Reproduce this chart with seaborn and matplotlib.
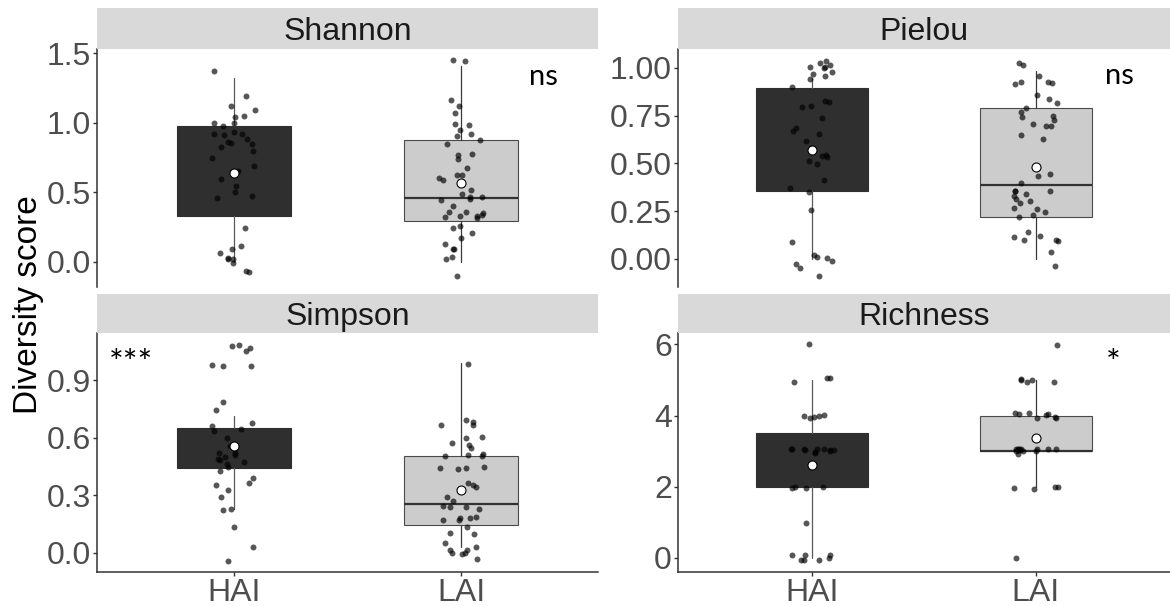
import numpy as np
import pandas as pd
import seaborn as sns
import matplotlib.pyplot as plt

sns.set_style('white')
plt.rcParams['font.family'] = ['Liberation Sans', 'DejaVu Sans']
np.random.seed(7)  # stripplot jitter

groups = ['HAI', 'LAI']

shannon_hai = [1.376, 1.197, 1.122, 1.050, 1.096, 1.046, 1.002, 0.998, 0.978, 0.935, 0.923, 0.885, 0.866,
               0.918, 0.914, 0.849, 0.830, 0.856, 0.801, 0.746, 0.655, 0.693, 0.597, 0.547, 0.475, 0.460,
               0.506, 0.242, 0.115, 0.091, 0.062, -0.005, 0.026, 0.019, 0.022, -0.074, -0.062]
shannon_lai = [1.453, 1.448, 1.165, 1.122, 1.070, 0.986, 0.993, 0.950, 0.918, 0.909, 0.875, 0.851, 0.777,
               0.767, 0.743, 0.676, 0.628, 0.624, 0.602, 0.588, 0.520, 0.489, 0.470, 0.470, 0.451, 0.444,
               0.403, 0.362, 0.357, 0.355, 0.341, 0.333, 0.333, 0.317, 0.326, 0.247, 0.261, 0.211, 0.170,
               0.129, 0.091, 0.096, 0.034, 0.022, -0.098]
pielou_hai = [1.007, 1.000, 0.960, 0.969, 0.941, 1.003, 1.016, 1.024, 1.038, 0.981, 0.902, 0.820, 0.794,
              0.798, 0.825, 0.736, 0.688, 0.653, 0.670, 0.618, 0.543, 0.513, 0.499, 0.538, 0.532, 0.414,
              0.370, 0.349, 0.257, 0.089, 0.021, 0.009, 0.003, -0.009, -0.028, -0.049, -0.087]
pielou_lai = [1.024, 1.014, 0.960, 0.928, 0.928, 0.920, 0.916, 0.859, 0.836, 0.815, 0.789, 0.768, 0.750,
              0.729, 0.745, 0.705, 0.696, 0.696, 0.651, 0.630, 0.443, 0.436, 0.400, 0.353, 0.339, 0.353,
              0.356, 0.332, 0.304, 0.312, 0.291, 0.269, 0.260, 0.244, 0.230, 0.218, 0.143, 0.119, 0.099,
              0.092, 0.099, 0.117, 0.038, -0.037]
simpson_hai = [1.078, 1.049, 1.066, 1.085, 0.971, 0.976, 0.972, 0.785, 0.742, 0.678, 0.660, 0.643, 0.636,
               0.601, 0.558, 0.518, 0.511, 0.522, 0.499, 0.475, 0.490, 0.485, 0.463, 0.445, 0.428, 0.388,
               0.362, 0.352, 0.326, 0.293, 0.227, 0.222, 0.135, 0.029, -0.040]
simpson_lai = [0.983, 0.692, 0.681, 0.666, 0.666, 0.605, 0.601, 0.570, 0.562, 0.549, 0.510, 0.504, 0.515,
               0.506, 0.435, 0.440, 0.440, 0.449, 0.345, 0.362, 0.354, 0.289, 0.269, 0.241, 0.241, 0.244,
               0.229, 0.184, 0.172, 0.172, 0.180, 0.185, 0.133, 0.102, 0.097, 0.050, 0.033, 0.002, 0.002,
               -0.007, 0.016, 0.017, -0.029]
richness_hai = [6.00, 5.05, 5.06, 4.95, 3.99, 3.99, 4.01, 3.95, 3.92, 3.03, 3.05, 2.98, 3.07, 3.06, 3.05,
                2.96, 3.01, 3.05, 3.03, 3.03, 2.00, 1.95, 2.00, 1.97, 0.97, -0.02, -0.07, 0.07, -0.07,
                0.07, 0.07, -0.07]
richness_lai = [5.98, 5.00, 5.01, 4.93, 4.93, 5.04, 4.04, 4.04, 3.92, 3.92, 4.08, 3.95, 4.08, 4.01, 3.05,
                3.07, 2.93, 3.03, 3.07, 3.05, 3.01, 3.07, 3.03, 3.01, 3.05, 3.01, 3.05, 2.00, 1.92, 1.95,
                2.00, -0.02]

# box stats per group: q1, median, q3, lower whisker, upper whisker
shannon_box = [[0.333, 0.80, 0.980, 0.0, 1.326], [0.297, 0.458, 0.875, 0.0, 1.412]]
pielou_box = [[0.356, 0.63, 0.897, 0.0, 0.949], [0.218, 0.387, 0.789, 0.0, 0.986]]
simpson_box = [[0.444, 0.55, 0.652, 0.229, 0.714], [0.144, 0.253, 0.506, 0.031, 0.991]]
richness_box = [[2.0, 3.0, 3.5, 0.0, 5.0], [3.0, 3.0, 4.0, 2.0, 5.0]]

shannon_mean = [0.640, 0.566]
pielou_mean = [0.569, 0.480]
simpson_mean = [0.558, 0.329]
richness_mean = [2.62, 3.37]

shannon_ticks = [0.0, 0.5, 1.0, 1.5]
pielou_ticks = [0.0, 0.25, 0.5, 0.75, 1.0]
simpson_ticks = [0.0, 0.3, 0.6, 0.9]
richness_ticks = [0, 2, 4, 6]

W, H = 1170, 606
fig = plt.figure(figsize=(W / 100, H / 100), dpi=100)

fills = ['#2f2f2f', '#cccccc']
edges = ['#2f2f2f', '#4a4a4a']
whisk = ['#5a5a5a', '#3a3a3a']
medc = ['#2f2f2f', '#333333']

panels = [
    ('Shannon', shannon_hai, shannon_lai, shannon_box, shannon_mean, shannon_ticks, '{:.1f}', (-0.18, 1.532),
     'ns', 21, (0.892, 0.849), (97, 501, 8, 49, 287), False),
    ('Pielou', pielou_hai, pielou_lai, pielou_box, pielou_mean, pielou_ticks, '{:.2f}', (-0.147, 1.099),
     'ns', 21, (0.898, 0.853), (678, 492, 8, 49, 287), False),
    ('Simpson', simpson_hai, simpson_lai, simpson_box, simpson_mean, simpson_ticks, '{:.1f}', (-0.099, 1.145),
     '***', 25, (0.068, 0.83), (97, 501, 294, 333, 572), True),
    ('Richness', richness_hai, richness_lai, richness_box, richness_mean, richness_ticks, '{:d}', (-0.40, 6.32),
     '*', 25, (0.884, 0.83), (678, 492, 294, 333, 572), True),
]

for name, hai, lai, box, mean, ticks, fmt, ylim, sig, sig_fs, sig_xy, (l, w, st, at, ab), bottom in panels:
    ax = fig.add_axes([l / W, 1 - ab / H, w / W, (ab - at) / H])
    sax = fig.add_axes([l / W, 1 - at / H, w / W, (at - st) / H])
    sax.set_facecolor('#d9d9d9')
    for s in sax.spines.values():
        s.set_visible(False)
    sax.set_xticks([])
    sax.set_yticks([])
    sax.text(0.5, 0.42, name, ha='center', va='center', fontsize=23, color='#1a1a1a')

    for i, g in enumerate(groups):
        q1, med, q3, lo, hi = box[i]
        stats = [dict(q1=q1, med=med, q3=q3, whislo=lo, whishi=hi, label=g)]
        ax.bxp(stats, positions=[i], widths=0.5, showfliers=False, showcaps=False, patch_artist=True,
               boxprops=dict(facecolor=fills[i], edgecolor=edges[i], linewidth=0.8),
               whiskerprops=dict(color=whisk[i], linewidth=0.9),
               medianprops=dict(color=medc[i], linewidth=1.6),
               zorder=1, manage_ticks=False)

    df = pd.DataFrame({'pos': [0] * len(hai) + [1] * len(lai), 'value': hai + lai})
    sns.stripplot(data=df, x='pos', y='value', native_scale=True, orient='x', jitter=0.1,
                  color='black', alpha=0.66, size=4.3, linewidth=0, ax=ax, zorder=3)
    ax.scatter([0, 1], mean, s=42, facecolor='white', edgecolor='black', linewidth=0.8, zorder=4)

    ax.set_xlim(-0.6, 1.6)
    ax.set_ylim(*ylim)
    ax.set_yticks(ticks)
    ax.set_yticklabels([fmt.format(t) for t in ticks])
    ax.set_xlabel('')
    ax.set_ylabel('')
    ax.spines['top'].set_visible(False)
    ax.spines['right'].set_visible(False)
    ax.spines['left'].set_color('#333333')
    ax.spines['left'].set_linewidth(1.1)
    ax.tick_params(axis='y', left=True, length=3, width=1, color='#333333', labelsize=23,
                   labelcolor='#4d4d4d', pad=1.5)
    if bottom:
        ax.set_xticks([0, 1])
        ax.set_xticklabels(groups)
        ax.spines['bottom'].set_color('#333333')
        ax.spines['bottom'].set_linewidth(1.1)
        ax.tick_params(axis='x', bottom=True, length=3, width=1, color='#333333', labelsize=23,
                       labelcolor='#4d4d4d', pad=1.5)
    else:
        ax.spines['bottom'].set_visible(False)
        ax.set_xticks([])

    ax.text(sig_xy[0], sig_xy[1], sig, transform=ax.transAxes, ha='center', va='baseline',
            fontsize=sig_fs, family=['Lato', 'DejaVu Sans'], color='black')

fig.text(28 / W, 1 - 305 / H, 'Diversity score', rotation=90, ha='center', va='center',
         fontsize=24, color='black')

fig.savefig('out.png', dpi=100)
